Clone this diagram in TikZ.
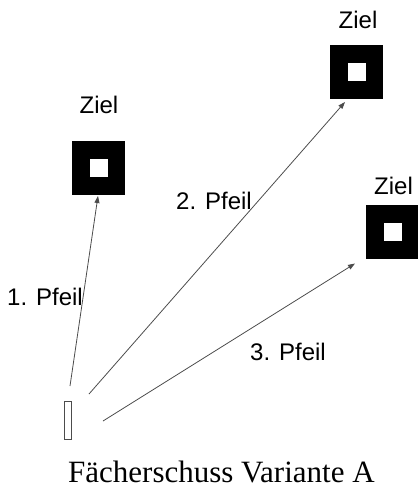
\documentclass[tikz,border=0pt]{standalone}
\usepackage{fontspec}
\setmainfont{Liberation Sans}
\newfontfamily\capfont{Liberation Serif}
\usetikzlibrary{arrows.meta}
\begin{document}
\begin{tikzpicture}[x=1pt,y=-1pt,
  target/.style={fill=black,draw=none,minimum width=53pt,minimum height=54pt,inner sep=0pt,outer sep=0pt},
  hole/.style={fill=white,draw=none,minimum size=18pt,inner sep=0pt},
  lbl/.style={font=\fontsize{24}{28}\selectfont,inner sep=0pt,text=black},
  shot/.style={draw=black!70,line width=0.8pt,-{Triangle[length=7pt,width=5pt]}},
  bow/.style={draw=black!70,line width=0.8pt,fill=white,minimum width=7pt,minimum height=38pt,inner sep=0pt}]
\useasboundingbox (0,0) rectangle (418,488);
% targets
\node[target] (t1) at (98.5,167.5) {};
\node[hole] (h1) at (t1.center) {};
\node[target] (t2) at (356.5,71.5) {};
\node[hole] (h2) at (t2.center) {};
\node[target] (t3) at (392.5,231.5) {};
\node[hole] (h3) at (t3.center) {};
% labels Ziel
\node[lbl,anchor=base] (z1) at (99,113) {Ziel};
\node[lbl,anchor=base] (z2) at (358,28) {Ziel};
\node[lbl,anchor=base] (z3) at (393.5,194) {Ziel};
% bow
\node[bow] (b) at (67.5,420) {};
% arrows
\coordinate (s1) at (70,386);
\coordinate (e1) at (98,196);
\coordinate (s2) at (89,394);
\coordinate (e2) at (345,102);
\coordinate (s3) at (103,421);
\coordinate (e3) at (355,263.5);
\draw[shot] (s1) -- (e1);
\draw[shot] (s2) -- (e2);
\draw[shot] (s3) -- (e3);
% arrow labels
\node[lbl,anchor=base west] (p1) at (7,305) {1. Pfeil};
\node[lbl,anchor=base west] (p2) at (176,209) {2. Pfeil};
\node[lbl,anchor=base west] (p3) at (250,360) {3. Pfeil};
% caption
\node[anchor=base west,inner sep=0pt,font=\capfont\fontsize{31}{36}\selectfont] (cap) at (68,482) {Fächerschuss Variante A};
\end{tikzpicture}
\end{document}
